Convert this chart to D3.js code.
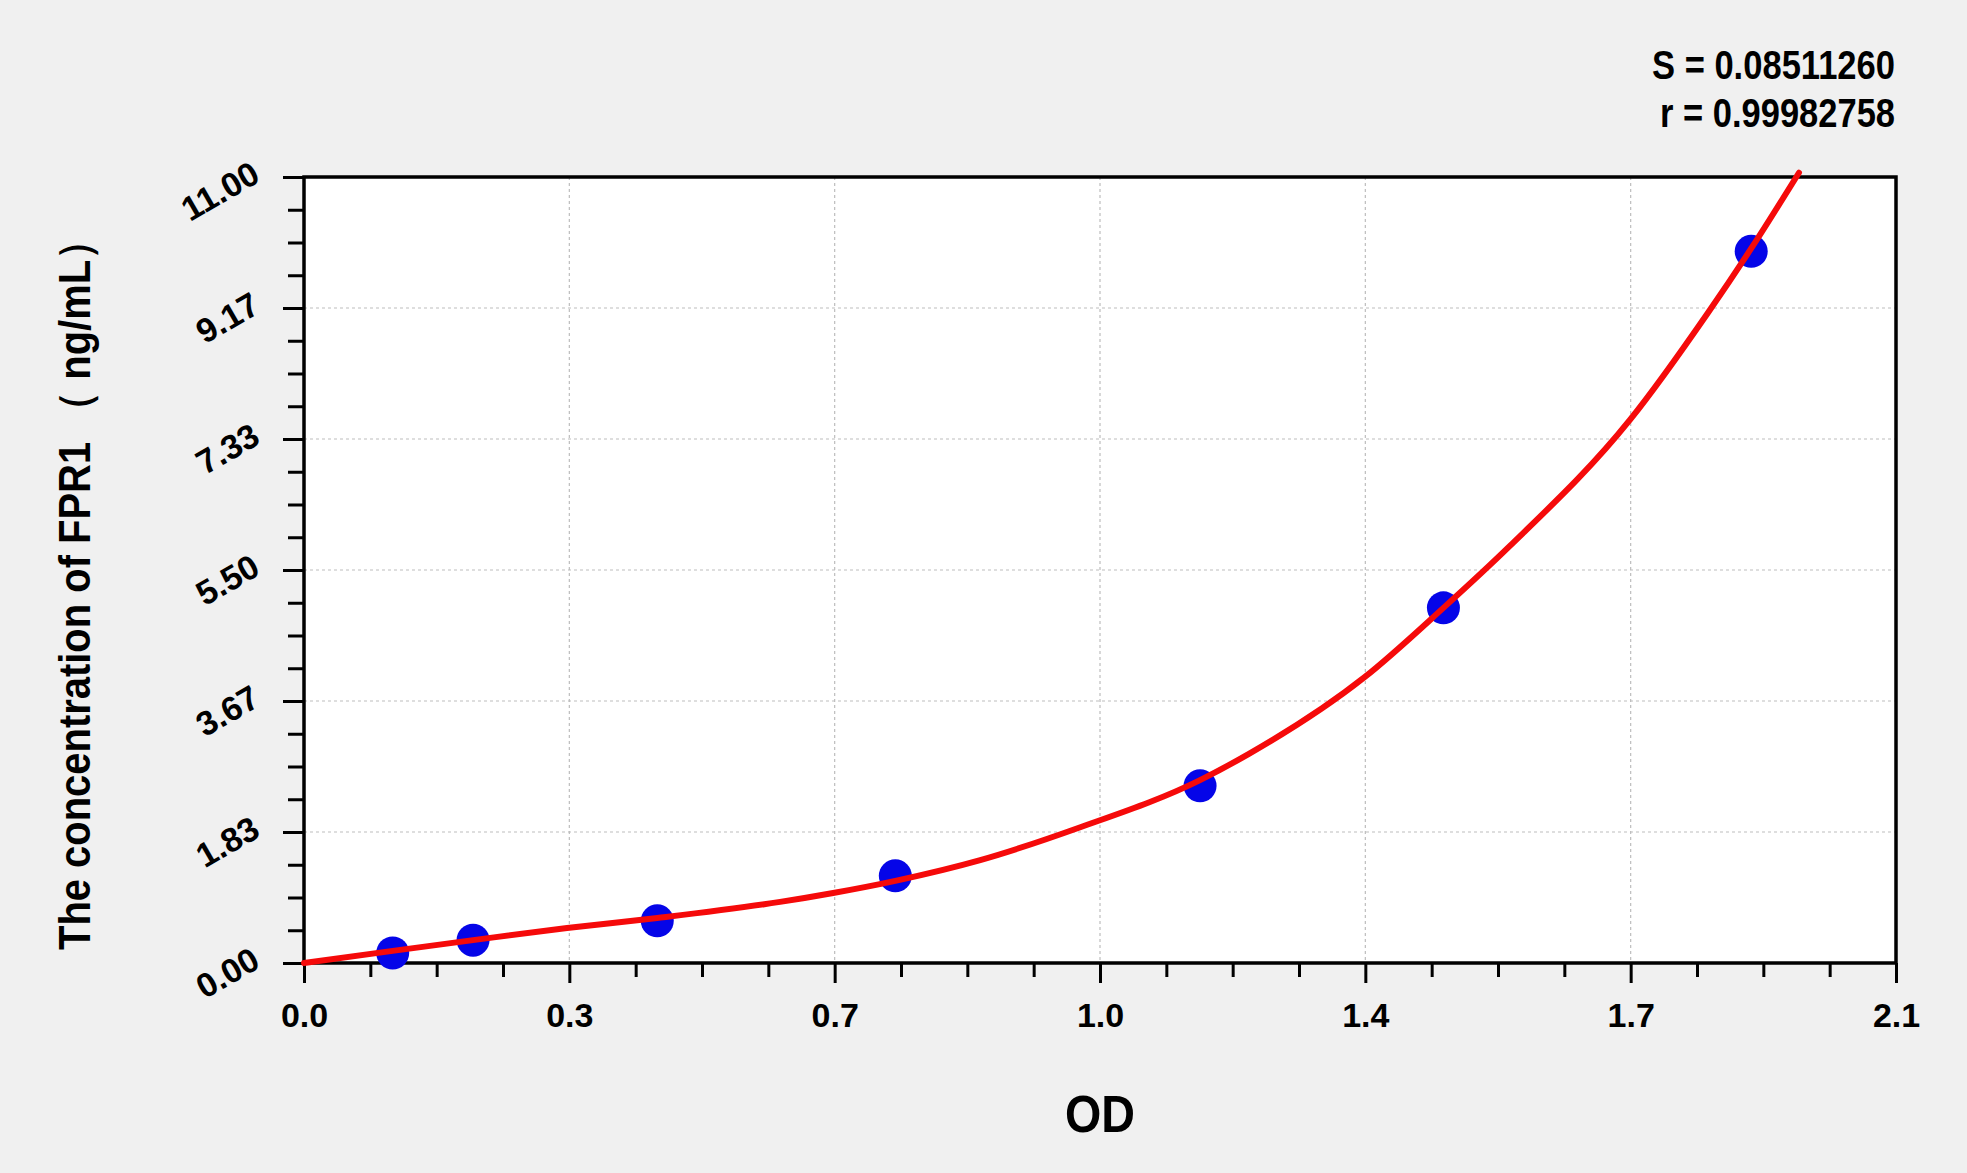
<!DOCTYPE html>
<html>
<head>
<meta charset="utf-8">
<script src="https://cdn.jsdelivr.net/npm/d3@7"></script>
<style>
  body { margin: 0; background: #f0f0f0; }
  svg { display: block; }
  text { font-family: "Liberation Sans", Arial, sans-serif; font-weight: bold; fill: #000; }
</style>
</head>
<body>
<div id="chart"></div>
<script>
// Standard points (OD, concentration)
var pointOD = [0.117, 0.223, 0.466, 0.780, 1.182, 1.503, 1.909];
var pointConc = [0.14, 0.32, 0.59, 1.22, 2.48, 4.97, 9.96];

// Fitted curve
var curveOD = [0, 0.117, 0.223, 0.347, 0.466, 0.628, 0.698, 0.780, 0.892, 1.024, 1.182, 1.247, 1.399, 1.503, 1.590, 1.749, 1.852, 1.909, 1.972];
var curveConc = [0, 0.17, 0.32, 0.49, 0.63, 0.855, 0.98, 1.15, 1.44, 1.90, 2.56, 2.93, 4.00, 4.97, 5.83, 7.60, 9.10, 10.00, 11.06];

// Axis ticks
var xTicks = [0, 0.35, 0.7, 1.05, 1.4, 1.75, 2.1];
var xTickLabels = ["0.0", "0.3", "0.7", "1.0", "1.4", "1.7", "2.1"];
var yTicks = [0, 11 / 6, 22 / 6, 33 / 6, 44 / 6, 55 / 6, 11];
var yTickLabels = ["0.00", "1.83", "3.67", "5.50", "7.33", "9.17", "11.00"];

var statS = "S = 0.08511260";
var statR = "r = 0.99982758";
var xTitle = "OD";
var yTitle = "The concentration of  FPR1 \uff08 ng/mL\uff09";

var W = 1967, H = 1173;
var plotLeft = 304, plotRight = 1896, plotTop = 177, plotBottom = 963;

var svg = d3.select("#chart").append("svg")
  .attr("width", W)
  .attr("height", H);

var xScale = d3.scaleLinear().domain([0, 2.1]).range([plotLeft, plotRight]);
var yScale = d3.scaleLinear().domain([0, 11]).range([plotBottom, plotTop]);

// minor ticks: 3 between each pair of majors
function minors(ticks) {
  var out = [];
  for (var i = 0; i < ticks.length - 1; i++) {
    var step = (ticks[i + 1] - ticks[i]) / 4;
    for (var k = 1; k < 4; k++) out.push(ticks[i] + k * step);
  }
  return out;
}

// plot background
svg.append("rect")
  .attr("x", plotLeft).attr("y", plotTop)
  .attr("width", plotRight - plotLeft).attr("height", plotBottom - plotTop)
  .style("fill", "#fff");

// grid lines
svg.append("g").selectAll("line")
  .data(xTicks.slice(1, -1))
  .enter().append("line")
  .attr("x1", function (d) { return xScale(d); })
  .attr("x2", function (d) { return xScale(d); })
  .attr("y1", plotTop).attr("y2", plotBottom)
  .style("stroke", "#bdbdbd").style("stroke-width", 1.2).style("stroke-dasharray", "3,3");

svg.append("g").selectAll("line")
  .data(yTicks.slice(1, -1))
  .enter().append("line")
  .attr("y1", function (d) { return yScale(d); })
  .attr("y2", function (d) { return yScale(d); })
  .attr("x1", plotLeft).attr("x2", plotRight)
  .style("stroke", "#bdbdbd").style("stroke-width", 1.2).style("stroke-dasharray", "3,3");

// x axis
var xAxis = svg.append("g")
  .attr("transform", "translate(0," + plotBottom + ")")
  .call(d3.axisBottom(xScale).tickValues(xTicks).tickSize(20)
    .tickFormat(function (d, i) { return xTickLabels[i]; }));
xAxis.select(".domain").remove();
xAxis.selectAll("line").style("stroke", "#000").style("stroke-width", 3);
xAxis.selectAll("text")
  .attr("y", 64).attr("dy", null)
  .style("font-size", "34px").style("fill", "#000");

svg.append("g")
  .attr("transform", "translate(0," + plotBottom + ")")
  .call(d3.axisBottom(xScale).tickValues(minors(xTicks)).tickSize(14).tickFormat(""))
  .call(function (g) { g.select(".domain").remove(); })
  .selectAll("line").style("stroke", "#000").style("stroke-width", 3);

// y axis
var yAxis = svg.append("g")
  .attr("transform", "translate(" + plotLeft + ",0)")
  .call(d3.axisLeft(yScale).tickValues(yTicks).tickSize(21)
    .tickFormat(function (d, i) { return yTickLabels[i]; }));
yAxis.select(".domain").remove();
yAxis.selectAll("line").style("stroke", "#000").style("stroke-width", 3);
yAxis.selectAll("text")
  .attr("x", 0).attr("y", 0).attr("dy", null)
  .attr("text-anchor", "end")
  .attr("transform", "translate(-42,3) rotate(-30)")
  .style("font-size", "34px").style("fill", "#000");

svg.append("g")
  .attr("transform", "translate(" + plotLeft + ",0)")
  .call(d3.axisLeft(yScale).tickValues(minors(yTicks)).tickSize(16).tickFormat(""))
  .call(function (g) { g.select(".domain").remove(); })
  .selectAll("line").style("stroke", "#000").style("stroke-width", 3);

// frame
svg.append("rect")
  .attr("x", plotLeft).attr("y", plotTop)
  .attr("width", plotRight - plotLeft).attr("height", plotBottom - plotTop)
  .style("fill", "none").style("stroke", "#000").style("stroke-width", 3.5);

// fitted curve
var curveData = curveOD.map(function (d, i) { return { x: d, y: curveConc[i] }; });
var line = d3.line()
  .x(function (d) { return xScale(d.x); })
  .y(function (d) { return yScale(d.y); })
  .curve(d3.curveMonotoneX);

// points
var pointData = pointOD.map(function (d, i) { return { x: d, y: pointConc[i] }; });
svg.append("g").selectAll("circle")
  .data(pointData)
  .enter().append("circle")
  .attr("cx", function (d) { return xScale(d.x); })
  .attr("cy", function (d) { return yScale(d.y); })
  .attr("r", 16.5)
  .style("fill", "#0505e8");

svg.append("path")
  .datum(curveData)
  .attr("d", line)
  .style("fill", "none")
  .style("stroke", "#f50a0a")
  .style("stroke-width", 6)
  .style("stroke-linecap", "round");

// statistics text
svg.append("text")
  .attr("x", 1895).attr("y", 79)
  .attr("text-anchor", "end")
  .attr("textLength", 243).attr("lengthAdjust", "spacingAndGlyphs")
  .style("font-size", "40px")
  .text(statS);
svg.append("text")
  .attr("x", 1895).attr("y", 127)
  .attr("text-anchor", "end")
  .attr("textLength", 235).attr("lengthAdjust", "spacingAndGlyphs")
  .style("font-size", "40px")
  .text(statR);

// axis titles
svg.append("text")
  .attr("x", 1100).attr("y", 1132)
  .attr("text-anchor", "middle")
  .attr("textLength", 70).attr("lengthAdjust", "spacingAndGlyphs")
  .style("font-size", "52px")
  .text(xTitle);

svg.append("text")
  .attr("transform", "translate(90,585) rotate(-90)")
  .attr("text-anchor", "middle")
  .attr("textLength", 730).attr("lengthAdjust", "spacingAndGlyphs")
  .style("font-size", "44px")
  .text(yTitle);
</script>
</body>
</html>
